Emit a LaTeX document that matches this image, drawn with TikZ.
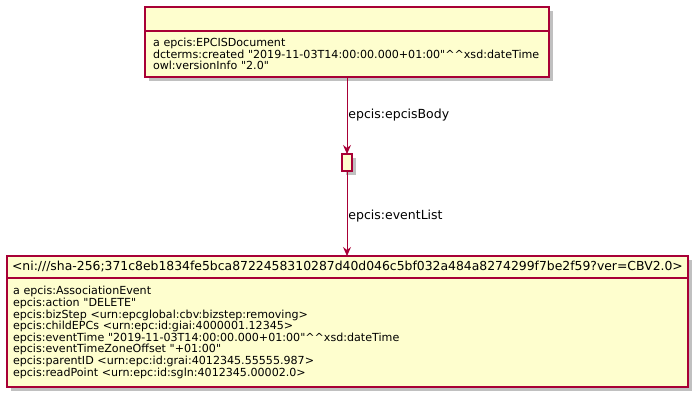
\documentclass[tikz,border=0pt]{standalone}
\usepackage{fontspec}
\setmainfont{DejaVu Sans}
\usetikzlibrary{arrows.meta,positioning,shadows}
\definecolor{umlline}{HTML}{A80036}
\definecolor{umlfill}{HTML}{FEFECE}
\newcommand{\dt}{\textasciicircum\textasciicircum}
\newcommand{\qq}{\textquotedbl}
\tikzset{
  cls/.style={draw=umlline,line width=1.1pt,fill=umlfill,outer sep=0pt,
    drop shadow={shadow xshift=4pt,shadow yshift=-4pt,fill=black!55,opacity=.45}},
  head/.style={cls,inner sep=0pt,font=\fontsize{12.4}{14}\selectfont},
  attrs/.style={cls,align=left,inner ysep=0pt,font=\fontsize{11.1}{11.6}\selectfont},
  ar/.style={-{Stealth[length=9pt,width=8pt,inset=3pt]},line width=0.9pt,draw=umlline},
  lbl/.style={anchor=west,inner sep=1pt,font=\fontsize{12.5}{14}\selectfont},
}
\begin{document}
\begin{tikzpicture}[x=1pt,y=-1pt]
\useasboundingbox (0,0) rectangle (700,402);
% the document
\node[head,minimum width=404pt,minimum height=24pt] (docHead) at (347,19) {};
\node[attrs,text width=388pt,inner xsep=8pt,minimum height=46pt,below=0pt of docHead] (docBody)
  {a epcis:EPCISDocument\\
   dcterms:created \qq2019-11-03T14:00:00.000+01:00\qq\dt xsd:dateTime\\
   owl:versionInfo \qq2.0\qq};
% blank node of the body
\node[cls,minimum width=10pt,minimum height=17pt,inner sep=0pt] (bodyNode) at (347,162.5) {};
% the event
\node[head,minimum width=681pt,minimum height=22pt] (evHead) at (347.5,267)
  {<ni:///sha-256;371c8eb1834fe5bca8722458310287d40d046c5bf032a484a8274299f7be2f59?ver=CBV2.0>};
\node[attrs,text width=669pt,inner xsep=6pt,minimum height=109pt,below=0pt of evHead] (evBody)
  {a epcis:AssociationEvent\\
   epcis:action \qq DELETE\qq\\
   epcis:bizStep <urn:epcglobal:cbv:bizstep:removing>\\
   epcis:childEPCs <urn:epc:id:giai:4000001.12345>\\
   epcis:eventTime \qq2019-11-03T14:00:00.000+01:00\qq\dt xsd:dateTime\\
   epcis:eventTimeZoneOffset \qq+01:00\qq\\
   epcis:parentID <urn:epc:id:grai:4012345.55555.987>\\
   epcis:readPoint <urn:epc:id:sgln:4012345.00002.0>};

\draw[ar] (docBody) -- (bodyNode) node[lbl,midway] {epcis:epcisBody};
\draw[ar] (bodyNode) -- (evHead.north -| bodyNode) node[lbl,midway,yshift=-3pt] {epcis:eventList};
\end{tikzpicture}
\end{document}
